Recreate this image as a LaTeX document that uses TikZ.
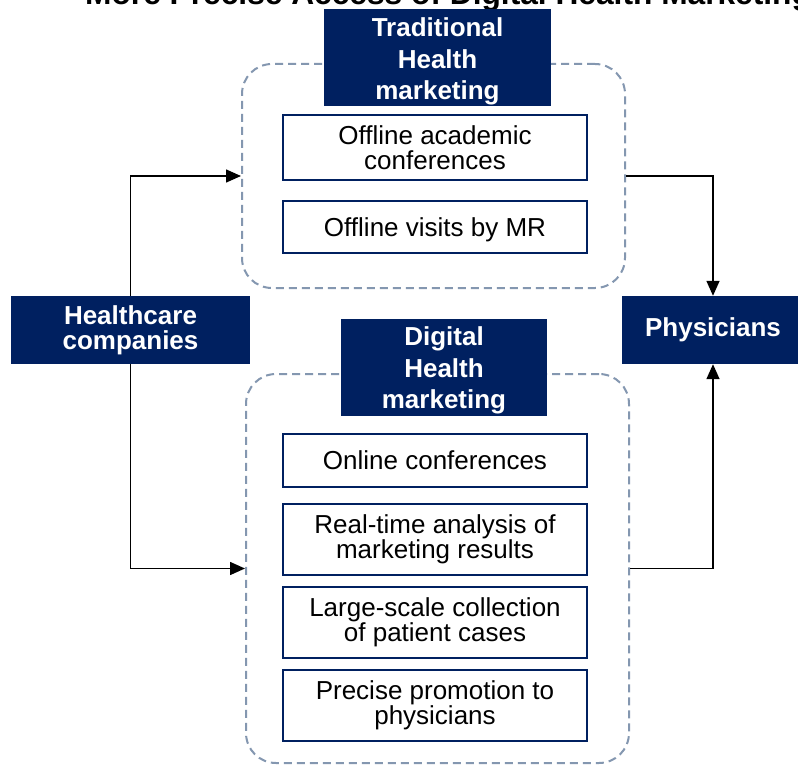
\documentclass[tikz,border=0pt]{standalone}
\usepackage{fontspec}
\setmainfont{Liberation Sans}
\usetikzlibrary{arrows.meta}
\definecolor{navy}{RGB}{0,32,96}
\definecolor{dashc}{RGB}{132,151,176}
\tikzset{
  header/.style={fill=navy, inner sep=0pt},
  htext/.style={text=white, inner sep=0pt, align=center,
    font=\fontsize{26}{31.5}\selectfont\bfseries},
  endbox/.style={fill=navy, text=white, inner sep=0pt, align=center,
    font=\fontsize{26}{25}\selectfont\bfseries},
  group/.style={draw=dashc, line width=2pt, dash pattern=on 8pt off 5pt,
    rounded corners=30pt, inner sep=0pt},
  item/.style={draw=navy, line width=2pt, fill=white, inner sep=0pt, align=center,
    minimum width=304pt, font=\fontsize{26}{24.5}\selectfont},
  itext/.style={inner sep=0pt, align=center, font=\fontsize{26}{24.5}\selectfont},
  arr/.style={draw=black, line width=1.5pt, -{Triangle[length=15pt,width=13pt]}}
}
\begin{document}
\begin{tikzpicture}[x=1pt,y=-1pt]
\useasboundingbox (0,0) rectangle (798,765);
\clip (0,0) rectangle (798,765);
\fill[white] (0,0) rectangle (798,765);
% title (cut off at top)
\node[anchor=base west, inner sep=0pt, font=\fontsize{31.7}{30}\selectfont\bfseries] (title) at (85,4.5) {More Precise Access of Digital Health Marketing};
% groups
\node[group, minimum width=383pt, minimum height=224pt] (trad) at (433.5,176) {};
\node[group, minimum width=383pt, minimum height=389pt] (dig) at (437.5,568.5) {};
% headers
\node[header, minimum width=227pt, minimum height=97pt] (tradh) at (437.5,57.5) {};
\node[htext] (tradt) at ([yshift=-4pt]tradh.center) {Traditional\\Health\\marketing};
\node[header, minimum width=206pt, minimum height=97pt] (digh) at (444,367.5) {};
\node[htext] (digt) at ([yshift=-3pt]digh.center) {Digital\\Health\\marketing};
% items
\node[item, minimum height=65pt] (t1) at (435,147.5) {Offline academic\\conferences};
\node[item, minimum height=52pt] (t2) at (435,227) {};
\node[itext] (t2t) at ([yshift=-3pt]t2.center) {Offline visits by MR};
\node[item, minimum height=53pt] (d1) at (435,460.5) {Online conferences};
\node[item, minimum height=71pt] (d2) at (435,539.5) {Real-time analysis of\\marketing results};
\node[item, minimum height=71pt] (d3) at (435,622.5) {Large-scale collection\\of patient cases};
\node[item, minimum height=71pt] (d4) at (435,705.5) {Precise promotion to\\physicians};
% end boxes
\node[endbox, minimum width=239pt, minimum height=68pt] (hc) at (130.5,330) {Healthcare\\companies};
\node[endbox, minimum width=182pt, minimum height=68pt] (ph) at (713,330) {Physicians};
% connectors
\draw[arr] (hc.north) |- (trad.west);
\draw[arr] (hc.south) |- (dig.west);
\draw[arr] (trad.east) -| (ph.north);
\draw[arr] (dig.east) -| (ph.south);
\end{tikzpicture}
\end{document}
